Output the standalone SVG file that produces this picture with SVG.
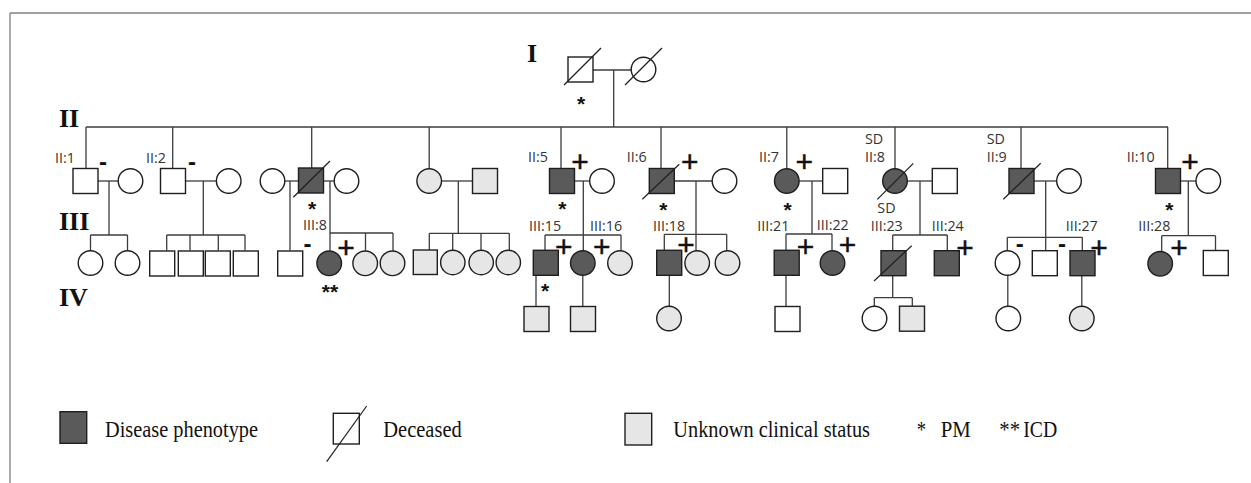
<svg xmlns="http://www.w3.org/2000/svg" width="1251" height="483" viewBox="0 0 1251 483">
<style>
.ln{stroke:#3c3c3c;stroke-width:1.3;fill:none}
.fr{stroke:#808080;stroke-width:1.3;fill:none}
.n{fill:#fff;stroke:#1e1e1e;stroke-width:1.4}
.a{fill:#5a5a5a;stroke:#1e1e1e;stroke-width:1.4}
.u{fill:#e6e6e6;stroke:#1e1e1e;stroke-width:1.4}
.sl{stroke:#1e1e1e;stroke-width:1.2}
.lab{font-family:"Open Sans","Liberation Sans",sans-serif;font-size:14.3px;fill:#333}
.gen{font-family:"Liberation Serif",serif;font-weight:bold;font-size:26px;fill:#111}
.pl{font-family:"Liberation Sans",sans-serif;font-size:30px;fill:#111;stroke:#111;stroke-width:0.45;text-anchor:middle}
.mi{font-family:"Liberation Sans",sans-serif;font-weight:bold;font-size:24px;fill:#111;text-anchor:middle}
.st{font-family:"Liberation Sans",sans-serif;font-weight:bold;font-size:21px;fill:#111;text-anchor:middle}
.lg{font-family:"Liberation Serif",serif;font-size:24px;fill:#111}
</style>
<defs>
<rect id="sq" width="25" height="25"/>
</defs>

<g id="frame">
<line class="fr" x1="10" y1="13" x2="1251" y2="13"/>
<line class="fr" x1="10" y1="13" x2="10" y2="483"/>
</g>

<g id="generation-labels">
<text class="gen" x="527" y="62">I</text>
<text class="gen" x="59" y="126.5">II</text>
<text class="gen" x="59" y="230">III</text>
<text class="gen" x="59" y="306">IV</text>
</g>

<g id="connectors">
<!-- gen I -->
<line class="ln" x1="593" y1="70" x2="631.2" y2="70"/>
<line class="ln" x1="613.7" y1="70" x2="613.7" y2="127"/>
<line class="ln" x1="86" y1="127" x2="1168" y2="127"/>
<!-- drops to gen II -->
<line class="ln" x1="86" y1="127" x2="86" y2="168.5"/>
<line class="ln" x1="172.7" y1="127" x2="172.7" y2="168.5"/>
<line class="ln" x1="311.7" y1="127" x2="311.7" y2="168"/>
<line class="ln" x1="429.2" y1="127" x2="429.2" y2="168.7"/>
<line class="ln" x1="561" y1="127" x2="561" y2="168.5"/>
<line class="ln" x1="661" y1="127" x2="661" y2="168.5"/>
<line class="ln" x1="786.8" y1="127" x2="786.8" y2="168.7"/>
<line class="ln" x1="895" y1="127" x2="895" y2="168.7"/>
<line class="ln" x1="1021" y1="127" x2="1021" y2="168.5"/>
<line class="ln" x1="1167.7" y1="127" x2="1167.7" y2="168.5"/>
<!-- II:1 family -->
<line class="ln" x1="98" y1="181" x2="118.2" y2="181"/>
<line class="ln" x1="109" y1="181" x2="109" y2="235"/>
<line class="ln" x1="90.5" y1="235" x2="127.5" y2="235"/>
<line class="ln" x1="90.5" y1="235" x2="90.5" y2="250.7"/>
<line class="ln" x1="127.5" y1="235" x2="127.5" y2="250.7"/>
<!-- II:2 family -->
<line class="ln" x1="185.5" y1="181" x2="216.4" y2="181"/>
<line class="ln" x1="203.3" y1="181" x2="203.3" y2="235"/>
<line class="ln" x1="166.7" y1="235" x2="245" y2="235"/>
<line class="ln" x1="166.7" y1="235" x2="166.7" y2="250.5"/>
<line class="ln" x1="190" y1="235" x2="190" y2="250.5"/>
<line class="ln" x1="218.3" y1="235" x2="218.3" y2="250.5"/>
<line class="ln" x1="245" y1="235" x2="245" y2="250.5"/>
<!-- II:3 families -->
<line class="ln" x1="284.8" y1="181" x2="298.5" y2="181"/>
<line class="ln" x1="290" y1="181" x2="290" y2="250.5"/>
<line class="ln" x1="323.5" y1="181" x2="334.2" y2="181"/>
<line class="ln" x1="330" y1="181" x2="330" y2="250.7"/>
<line class="ln" x1="330" y1="233" x2="393" y2="233"/>
<line class="ln" x1="365.5" y1="233" x2="365.5" y2="250.7"/>
<line class="ln" x1="393" y1="233" x2="393" y2="250.7"/>
<!-- II:4 family -->
<line class="ln" x1="441.5" y1="181" x2="472.5" y2="181"/>
<line class="ln" x1="458.3" y1="181" x2="458.3" y2="233.3"/>
<line class="ln" x1="429.3" y1="233.3" x2="509.3" y2="233.3"/>
<line class="ln" x1="429.3" y1="233.3" x2="429.3" y2="250"/>
<line class="ln" x1="452.7" y1="233.3" x2="452.7" y2="250.7"/>
<line class="ln" x1="481" y1="233.3" x2="481" y2="250.7"/>
<line class="ln" x1="509.3" y1="233.3" x2="509.3" y2="250.7"/>
<!-- II:5 family -->
<line class="ln" x1="574.5" y1="181" x2="589.7" y2="181"/>
<line class="ln" x1="583.3" y1="181" x2="583.3" y2="250.7"/>
<line class="ln" x1="545" y1="235" x2="621" y2="235"/>
<line class="ln" x1="545" y1="235" x2="545" y2="250.5"/>
<line class="ln" x1="621" y1="235" x2="621" y2="250.7"/>
<line class="ln" x1="536" y1="275.5" x2="536" y2="306.5"/>
<line class="ln" x1="582.8" y1="275.3" x2="582.8" y2="306.5"/>
<!-- II:6 family -->
<line class="ln" x1="674.3" y1="181" x2="712.2" y2="181"/>
<line class="ln" x1="696" y1="181" x2="696" y2="250.7"/>
<line class="ln" x1="664.3" y1="234.3" x2="726.7" y2="234.3"/>
<line class="ln" x1="664.3" y1="234.3" x2="664.3" y2="250.5"/>
<line class="ln" x1="726.7" y1="234.3" x2="726.7" y2="250.7"/>
<line class="ln" x1="669.3" y1="275.5" x2="669.3" y2="306.2"/>
<!-- II:7 family -->
<line class="ln" x1="799.1" y1="181" x2="822.7" y2="181"/>
<line class="ln" x1="812" y1="181" x2="812" y2="234"/>
<line class="ln" x1="786" y1="234" x2="832" y2="234"/>
<line class="ln" x1="786" y1="234" x2="786" y2="250.5"/>
<line class="ln" x1="832" y1="234" x2="832" y2="250.7"/>
<line class="ln" x1="786" y1="275.5" x2="786" y2="306.5"/>
<!-- II:8 family -->
<line class="ln" x1="907.3" y1="181" x2="932.3" y2="181"/>
<line class="ln" x1="920" y1="181" x2="920" y2="235"/>
<line class="ln" x1="892.7" y1="235" x2="947.3" y2="235"/>
<line class="ln" x1="892.7" y1="235" x2="892.7" y2="250.7"/>
<line class="ln" x1="947.3" y1="235" x2="947.3" y2="250.7"/>
<line class="ln" x1="892.7" y1="275.7" x2="892.7" y2="297.7"/>
<line class="ln" x1="874.3" y1="297.7" x2="912.3" y2="297.7"/>
<line class="ln" x1="874.3" y1="297.7" x2="874.3" y2="306.2"/>
<line class="ln" x1="912.3" y1="297.7" x2="912.3" y2="306.2"/>
<!-- II:9 family -->
<line class="ln" x1="1034" y1="181" x2="1056.7" y2="181"/>
<line class="ln" x1="1045.7" y1="181" x2="1045.7" y2="250.7"/>
<line class="ln" x1="1007.3" y1="237.3" x2="1082.3" y2="237.3"/>
<line class="ln" x1="1007.3" y1="237.3" x2="1007.3" y2="250.7"/>
<line class="ln" x1="1082.3" y1="237.3" x2="1082.3" y2="250.7"/>
<line class="ln" x1="1007.8" y1="275.3" x2="1007.8" y2="306.2"/>
<line class="ln" x1="1081.8" y1="275.7" x2="1081.8" y2="306.2"/>
<!-- II:10 family -->
<line class="ln" x1="1180.5" y1="181" x2="1196" y2="181"/>
<line class="ln" x1="1188.3" y1="181" x2="1188.3" y2="235.7"/>
<line class="ln" x1="1161.7" y1="235.7" x2="1215.5" y2="235.7"/>
<line class="ln" x1="1161.7" y1="235.7" x2="1161.7" y2="251.3"/>
<line class="ln" x1="1215.5" y1="235.7" x2="1215.5" y2="250.5"/>
</g>

<!-- Generation I -->
<g id="I-1">
<use href="#sq" class="n" x="568" y="57"/>
<line class="sl" x1="564" y1="85" x2="601" y2="48"/>
<text class="st" x="581" y="110.5">*</text>
</g>
<g id="I-2">
<circle class="n" cx="643.5" cy="69.5" r="12.3"/>
<line class="sl" x1="625" y1="85" x2="662" y2="48"/>
</g>

<!-- Generation II -->
<g id="II-1">
<use href="#sq" class="n" x="73" y="168.5"/>
<text class="lab" x="55" y="163">II:1</text>
<text class="mi" x="103" y="169.5">-</text>
</g>
<g id="II-1-spouse"><circle class="n" cx="130.5" cy="181" r="12.3"/></g>
<g id="II-2">
<use href="#sq" class="n" x="160.5" y="168.5"/>
<text class="lab" x="146" y="163">II:2</text>
<text class="mi" x="192" y="169.5">-</text>
</g>
<g id="II-2-spouse"><circle class="n" cx="228.7" cy="181" r="12.3"/></g>
<g id="II-3-spouse-a"><circle class="n" cx="272.5" cy="181" r="12.3"/></g>
<g id="II-3">
<use href="#sq" class="a" x="298.5" y="168"/>
<line class="sl" x1="293.3" y1="197.3" x2="330" y2="161"/>
<text class="st" x="312" y="215.5">*</text>
</g>
<g id="II-3-spouse-b"><circle class="n" cx="346.5" cy="181" r="12.3"/></g>
<g id="II-4"><circle class="u" cx="429.2" cy="181" r="12.3"/></g>
<g id="II-4-spouse"><use href="#sq" class="u" x="472.5" y="168.5"/></g>
<g id="II-5">
<use href="#sq" class="a" x="549.5" y="168.5"/>
<text class="lab" x="528" y="162">II:5</text>
<text class="pl" x="580" y="172.3">+</text>
<text class="st" x="562.3" y="215.5">*</text>
</g>
<g id="II-5-spouse"><circle class="n" cx="602" cy="181" r="12.3"/></g>
<g id="II-6">
<use href="#sq" class="a" x="649.3" y="168.5"/>
<line class="sl" x1="642.3" y1="199.3" x2="679.3" y2="164.3"/>
<text class="lab" x="626.7" y="162">II:6</text>
<text class="pl" x="689.7" y="172.3">+</text>
<text class="st" x="663.3" y="216.5">*</text>
</g>
<g id="II-6-spouse"><circle class="n" cx="724.5" cy="181" r="12.3"/></g>
<g id="II-7">
<circle class="a" cx="786.8" cy="181" r="12.3"/>
<text class="lab" x="759" y="162">II:7</text>
<text class="pl" x="804.3" y="172.3">+</text>
<text class="st" x="787.7" y="216.5">*</text>
</g>
<g id="II-7-spouse"><use href="#sq" class="n" x="822.7" y="168.5"/></g>
<g id="II-8">
<circle class="a" cx="895" cy="181" r="12.3"/>
<line class="sl" x1="877.3" y1="199.3" x2="913.3" y2="163.3"/>
<text class="lab" x="865" y="144">SD</text>
<text class="lab" x="865" y="162">II:8</text>
</g>
<g id="II-8-spouse"><use href="#sq" class="n" x="932.3" y="168.5"/></g>
<g id="II-9">
<use href="#sq" class="a" x="1009" y="168.5"/>
<line class="sl" x1="1003.3" y1="199.3" x2="1040.7" y2="163.3"/>
<text class="lab" x="986.7" y="144">SD</text>
<text class="lab" x="986.7" y="162">II:9</text>
</g>
<g id="II-9-spouse"><circle class="n" cx="1069" cy="181" r="12.3"/></g>
<g id="II-10">
<use href="#sq" class="a" x="1155.5" y="168.5"/>
<text class="lab" x="1126.7" y="162">II:10</text>
<text class="pl" x="1190" y="172.3">+</text>
<text class="st" x="1169.3" y="216.5">*</text>
</g>
<g id="II-10-spouse"><circle class="n" cx="1208.3" cy="181" r="12.3"/></g>

<!-- Generation III -->
<g id="III-1"><circle class="n" cx="90.5" cy="263" r="12.3"/></g>
<g id="III-2"><circle class="n" cx="127.5" cy="263" r="12.3"/></g>
<g id="III-3"><use href="#sq" class="n" x="149.7" y="251"/></g>
<g id="III-4"><use href="#sq" class="n" x="178.3" y="251"/></g>
<g id="III-5"><use href="#sq" class="n" x="205.3" y="251"/></g>
<g id="III-6"><use href="#sq" class="n" x="233.3" y="251"/></g>
<g id="III-7">
<use href="#sq" class="n" x="277.7" y="251"/>
<text class="mi" x="307.5" y="251.5">-</text>
</g>
<g id="III-8">
<circle class="a" cx="329.2" cy="263.3" r="12.3"/>
<text class="lab" x="303" y="229.5">III:8</text>
<text class="pl" x="346" y="257.5">+</text>
<text class="st" x="330" y="299.3">**</text>
</g>
<g id="III-9"><circle class="u" cx="365.2" cy="263.3" r="12.3"/></g>
<g id="III-10"><circle class="u" cx="392.5" cy="263.3" r="12.3"/></g>
<g id="III-11"><rect class="u" x="413.3" y="250" width="24" height="24.5"/></g>
<g id="III-12"><circle class="u" cx="452.8" cy="262.5" r="12.2"/></g>
<g id="III-13"><circle class="u" cx="481.2" cy="262.5" r="12.2"/></g>
<g id="III-14"><circle class="u" cx="508.3" cy="262.5" r="12.2"/></g>
<g id="III-15">
<use href="#sq" class="a" x="533.3" y="250.3"/>
<text class="lab" x="529" y="231">III:15</text>
<text class="pl" x="563.7" y="256.5">+</text>
<text class="st" x="545" y="297.6">*</text>
</g>
<g id="III-16">
<circle class="a" cx="582.8" cy="263" r="12.3"/>
<text class="lab" x="590" y="231">III:16</text>
<text class="pl" x="601.7" y="256.5">+</text>
</g>
<g id="III-17"><circle class="u" cx="620" cy="263" r="12.3"/></g>
<g id="III-18">
<use href="#sq" class="a" x="656.7" y="250.3"/>
<text class="lab" x="653" y="231">III:18</text>
<text class="pl" x="686" y="255.1">+</text>
</g>
<g id="III-19"><circle class="u" cx="697.2" cy="263" r="12.3"/></g>
<g id="III-20"><circle class="u" cx="727.5" cy="263" r="12.3"/></g>
<g id="III-21">
<use href="#sq" class="a" x="774.2" y="250.3"/>
<text class="lab" x="757.3" y="231">III:21</text>
<text class="pl" x="805.5" y="256.5">+</text>
</g>
<g id="III-22">
<circle class="a" cx="832.5" cy="263" r="12.3"/>
<text class="lab" x="816.7" y="230">III:22</text>
<text class="pl" x="847.5" y="255.1">+</text>
</g>
<g id="III-23">
<use href="#sq" class="a" x="881" y="250.7"/>
<line class="sl" x1="874" y1="281" x2="911.7" y2="245.7"/>
<text class="lab" x="877.3" y="213">SD</text>
<text class="lab" x="870.7" y="231">III:23</text>
</g>
<g id="III-24">
<use href="#sq" class="a" x="934.3" y="250.7"/>
<text class="lab" x="931.7" y="231">III:24</text>
<text class="pl" x="965" y="257.5">+</text>
</g>
<g id="III-25">
<circle class="n" cx="1007.5" cy="263" r="12.3"/>
<text class="mi" x="1019.7" y="251.5">-</text>
</g>
<g id="III-26">
<use href="#sq" class="n" x="1032.3" y="250.7"/>
<text class="mi" x="1062" y="251.5">-</text>
</g>
<g id="III-27">
<use href="#sq" class="a" x="1070" y="250.7"/>
<text class="lab" x="1065.7" y="231">III:27</text>
<text class="pl" x="1099" y="257.5">+</text>
</g>
<g id="III-28">
<circle class="a" cx="1160.2" cy="263.8" r="12.3"/>
<text class="lab" x="1138.3" y="231">III:28</text>
<text class="pl" x="1179" y="257.5">+</text>
</g>
<g id="III-29"><use href="#sq" class="n" x="1203.3" y="250.5"/></g>

<!-- Generation IV -->
<g id="IV-1"><use href="#sq" class="u" x="524" y="306.5"/></g>
<g id="IV-2"><use href="#sq" class="u" x="570.5" y="306.5"/></g>
<g id="IV-3"><circle class="u" cx="669" cy="318.5" r="12.3"/></g>
<g id="IV-4"><use href="#sq" class="n" x="775" y="306.5"/></g>
<g id="IV-5"><circle class="n" cx="874.5" cy="318.5" r="12.3"/></g>
<g id="IV-6"><use href="#sq" class="u" x="899.5" y="306.2"/></g>
<g id="IV-7"><circle class="n" cx="1008.3" cy="318.5" r="12.3"/></g>
<g id="IV-8"><circle class="u" cx="1081.8" cy="318.5" r="12.3"/></g>

<!-- Legend -->
<g id="legend">
<rect class="a" x="60" y="411.7" width="26.7" height="31.6"/>
<text class="lg" x="105" y="436.5" textLength="153" lengthAdjust="spacingAndGlyphs">Disease phenotype</text>
<rect class="n" x="333.3" y="413.3" width="26" height="30.7"/>
<line class="sl" x1="326.7" y1="461.7" x2="366.7" y2="406"/>
<text class="lg" x="383.3" y="436.5" textLength="78.4" lengthAdjust="spacingAndGlyphs">Deceased</text>
<rect class="u" x="625" y="413.3" width="26.7" height="31.7"/>
<text class="lg" x="673.3" y="436.5" textLength="196.7" lengthAdjust="spacingAndGlyphs">Unknown clinical status</text>
<text class="lg" x="916.7" y="436.5" textLength="9.3" lengthAdjust="spacingAndGlyphs">*</text>
<text class="lg" x="940.7" y="436.5" textLength="30" lengthAdjust="spacingAndGlyphs">PM</text>
<text class="lg" x="999.3" y="436.5" textLength="20.7" lengthAdjust="spacingAndGlyphs">**</text>
<text class="lg" x="1023.3" y="436.5" textLength="34" lengthAdjust="spacingAndGlyphs">ICD</text>
</g>
</svg>
